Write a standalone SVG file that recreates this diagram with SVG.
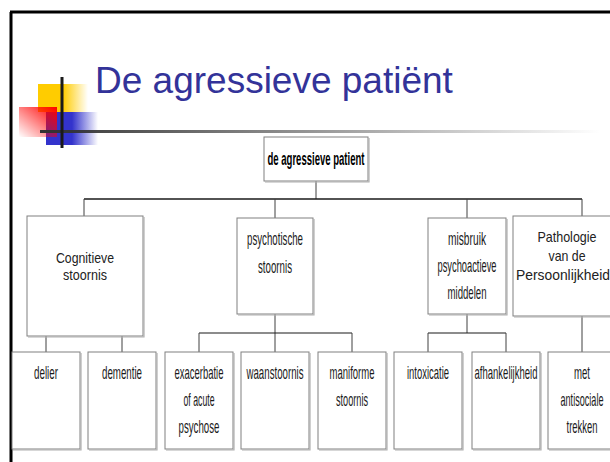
<svg xmlns="http://www.w3.org/2000/svg" width="610" height="462" viewBox="0 0 610 462">
<defs>
<linearGradient id="gYel" x1="0" y1="0" x2="1" y2="0"><stop offset="0" stop-color="#FFCC00"/><stop offset="0.5" stop-color="#FFCC00"/><stop offset="1" stop-color="#FFCC00" stop-opacity="0"/></linearGradient>
<linearGradient id="gBlu" x1="0" y1="0" x2="1" y2="0"><stop offset="0" stop-color="#3333CC"/><stop offset="0.5" stop-color="#3333CC"/><stop offset="1" stop-color="#3333CC" stop-opacity="0"/></linearGradient>
<linearGradient id="gRed" x1="1" y1="0" x2="0" y2="1"><stop offset="0" stop-color="#FF0000"/><stop offset="1" stop-color="#FF0000" stop-opacity="0"/></linearGradient>
<linearGradient id="gLine" x1="0" y1="0" x2="1" y2="0"><stop offset="0" stop-color="#333333"/><stop offset="1" stop-color="#333333" stop-opacity="0"/></linearGradient>
</defs>
<style>
.box{fill:#ffffff;stroke:#808080;stroke-width:1}
.sh{fill:none;stroke:#b0b0b0;stroke-width:1.2}
.c{fill:none;stroke:#404040;stroke-width:1}
.n{font-family:"Liberation Sans Narrow","Liberation Sans",Arial,sans-serif;font-size:19px;fill:#1a1a1a;text-anchor:middle}
.r{font-family:"Liberation Sans",Arial,sans-serif;font-size:14.5px;fill:#222222;text-anchor:middle}
.b{font-family:"Liberation Sans Narrow","Liberation Sans",Arial,sans-serif;font-size:18.5px;font-weight:bold;fill:#000000;text-anchor:middle}
</style>
<rect width="610" height="462" fill="#ffffff"/>
<g id="frame">
<line x1="11" y1="12" x2="11" y2="462" stroke="#000" stroke-width="3"/>
<line x1="10" y1="12" x2="610" y2="12" stroke="#000" stroke-width="3"/>
</g>
<g id="decor">
<rect x="38" y="84" width="50" height="28" fill="url(#gYel)"/>
<rect x="46" y="112" width="52" height="33" fill="url(#gBlu)"/>
<rect x="19" y="107" width="38" height="30" fill="url(#gRed)"/>
<rect x="40" y="130" width="560" height="3" fill="url(#gLine)"/>
<rect x="60.5" y="77" width="3" height="71" fill="#1a1a1a"/>
</g>
<g id="title"><text x="95" y="93" font-family="Liberation Sans, Arial, sans-serif" font-size="37" fill="#333399">De agressieve patiënt</text></g>
<g id="connectors">
<line class="c" x1="316" y1="181" x2="316" y2="199"/>
<line x1="84" y1="199" x2="582" y2="199" stroke="#1a1a1a" stroke-width="1.5"/>
<line class="c" x1="84" y1="199" x2="84" y2="216"/>
<line class="c" x1="275" y1="199" x2="275" y2="218"/>
<line class="c" x1="467" y1="199" x2="467" y2="218"/>
<line class="c" x1="582" y1="199" x2="582" y2="216"/>
<line class="c" x1="46" y1="336" x2="46" y2="352"/>
<line class="c" x1="122" y1="336" x2="122" y2="352"/>
<line class="c" x1="275" y1="314" x2="275" y2="352"/>
<line x1="199" y1="333" x2="352" y2="333" stroke="#1a1a1a" stroke-width="1.2"/>
<line class="c" x1="199" y1="333" x2="199" y2="352"/>
<line class="c" x1="352" y1="333" x2="352" y2="352"/>
<line class="c" x1="467" y1="314" x2="467" y2="333"/>
<line x1="428" y1="333" x2="506" y2="333" stroke="#1a1a1a" stroke-width="1.2"/>
<line class="c" x1="428" y1="333" x2="428" y2="352"/>
<line class="c" x1="506" y1="333" x2="506" y2="352"/>
<line class="c" x1="582" y1="316" x2="582" y2="352"/>
</g>
<g id="root"><rect class="box" x="264" y="137" width="104" height="44"/><path class="sh" d="M369 138V182H265"/><text class="b" x="316" y="165" textLength="97" lengthAdjust="spacingAndGlyphs">de agressieve patient</text></g>
<g id="cognitieve"><rect class="box" x="27" y="216" width="116" height="120"/><path class="sh" d="M144 217V337H28"/><text class="r" x="85" y="263" textLength="58" lengthAdjust="spacingAndGlyphs">Cognitieve</text><text class="r" x="85" y="280" textLength="44" lengthAdjust="spacingAndGlyphs">stoornis</text></g>
<g id="psychotische"><rect class="box" x="237" y="218" width="76" height="96"/><path class="sh" d="M314 219V315H238"/><text class="n" x="275" y="245" textLength="56" lengthAdjust="spacingAndGlyphs">psychotische</text><text class="n" x="275" y="273" textLength="34" lengthAdjust="spacingAndGlyphs">stoornis</text></g>
<g id="misbruik"><rect class="box" x="428" y="218" width="78" height="96"/><path class="sh" d="M507 219V315H429"/><text class="n" x="467" y="245" textLength="38" lengthAdjust="spacingAndGlyphs">misbruik</text><text class="n" x="467" y="272" textLength="59" lengthAdjust="spacingAndGlyphs">psychoactieve</text><text class="n" x="467" y="299" textLength="39" lengthAdjust="spacingAndGlyphs">middelen</text></g>
<g id="pathologie"><rect class="box" x="513" y="216" width="112" height="100"/><path class="sh" d="M514 317H626"/><text class="r" x="567" y="242" textLength="59" lengthAdjust="spacingAndGlyphs">Pathologie</text><text class="r" x="567" y="261" textLength="37" lengthAdjust="spacingAndGlyphs">van de</text><text class="r" x="563" y="280" textLength="94" lengthAdjust="spacingAndGlyphs">Persoonlijkheid</text></g>
<g id="delier"><rect class="box" x="12" y="352" width="68" height="97"/><path class="sh" d="M81 353V450H13"/><text class="n" x="46" y="379" textLength="24" lengthAdjust="spacingAndGlyphs">delier</text></g>
<g id="dementie"><rect class="box" x="88" y="352" width="68" height="97"/><path class="sh" d="M157 353V450H89"/><text class="n" x="122" y="379" textLength="40" lengthAdjust="spacingAndGlyphs">dementie</text></g>
<g id="exacerbatie"><rect class="box" x="165" y="352" width="68" height="97"/><path class="sh" d="M234 353V450H166"/><text class="n" x="199" y="379" textLength="49" lengthAdjust="spacingAndGlyphs">exacerbatie</text><text class="n" x="199" y="406" textLength="31" lengthAdjust="spacingAndGlyphs">of acute</text><text class="n" x="199" y="433" textLength="41" lengthAdjust="spacingAndGlyphs">psychose</text></g>
<g id="waanstoornis"><rect class="box" x="241" y="352" width="68" height="97"/><path class="sh" d="M310 353V450H242"/><text class="n" x="275" y="379" textLength="57" lengthAdjust="spacingAndGlyphs">waanstoornis</text></g>
<g id="maniforme"><rect class="box" x="318" y="352" width="68" height="97"/><path class="sh" d="M387 353V450H319"/><text class="n" x="352" y="379" textLength="45" lengthAdjust="spacingAndGlyphs">maniforme</text><text class="n" x="352" y="406" textLength="32" lengthAdjust="spacingAndGlyphs">stoornis</text></g>
<g id="intoxicatie"><rect class="box" x="394" y="352" width="68" height="97"/><path class="sh" d="M463 353V450H395"/><text class="n" x="428" y="379" textLength="42" lengthAdjust="spacingAndGlyphs">intoxicatie</text></g>
<g id="afhankelijkheid"><rect class="box" x="472" y="352" width="68" height="97"/><path class="sh" d="M541 353V450H473"/><text class="n" x="506" y="379" textLength="63" lengthAdjust="spacingAndGlyphs">afhankelijkheid</text></g>
<g id="met"><rect class="box" x="548" y="352" width="68" height="97"/><path class="sh" d="M617 353V450H549"/><text class="n" x="582" y="379" textLength="16" lengthAdjust="spacingAndGlyphs">met</text><text class="n" x="582" y="406" textLength="43" lengthAdjust="spacingAndGlyphs">antisociale</text><text class="n" x="582" y="433" textLength="31" lengthAdjust="spacingAndGlyphs">trekken</text></g>
</svg>
